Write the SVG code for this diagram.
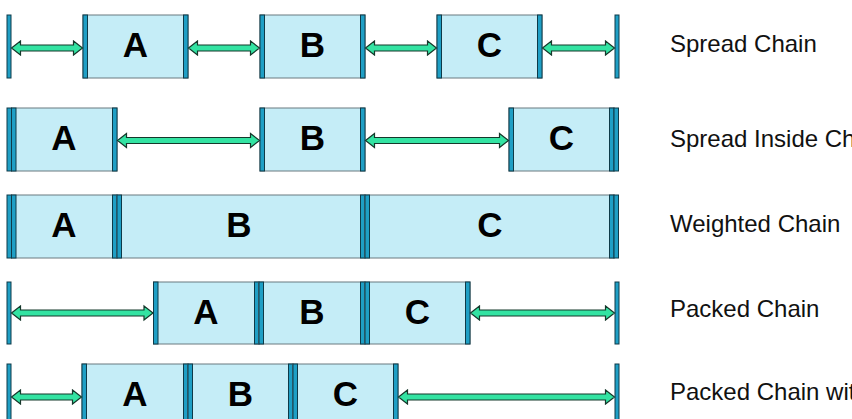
<svg xmlns="http://www.w3.org/2000/svg" width="852" height="419" viewBox="0 0 852 419">
<style>
.box{fill:#c5edf7;stroke:#6b7b80;stroke-width:1}
.bar{fill:#1f9fc5;stroke:#0e3a48;stroke-width:1}
.arr{fill:#33e3a2;stroke:#15382b;stroke-width:1.2;stroke-linejoin:miter}
.ltr{font-family:"Liberation Sans",Arial,sans-serif;font-weight:bold;font-size:35px;fill:#000;text-anchor:middle}
.lbl{font-family:"Liberation Sans",Arial,sans-serif;font-size:24px;fill:#111}
</style>
<rect width="852" height="419" fill="#fff"/>

<!-- Row 1: Spread Chain -->
<g id="r1-start"><rect class="bar" x="7" y="15" width="4" height="63"/></g>
<g id="r1-A"><rect class="box" x="83" y="15" width="105" height="63"/><rect class="bar" x="83" y="15" width="4.5" height="63"/><rect class="bar" x="183.5" y="15" width="4.5" height="63"/><text class="ltr" x="135.5" y="57">A</text></g>
<g id="r1-B"><rect class="box" x="260" y="15" width="105" height="63"/><rect class="bar" x="260" y="15" width="4.5" height="63"/><rect class="bar" x="360.5" y="15" width="4.5" height="63"/><text class="ltr" x="312.5" y="57">B</text></g>
<g id="r1-C"><rect class="box" x="437" y="15" width="105" height="63"/><rect class="bar" x="437" y="15" width="4.5" height="63"/><rect class="bar" x="537.5" y="15" width="4.5" height="63"/><text class="ltr" x="489.5" y="57">C</text></g>
<g id="r1-end"><rect class="bar" x="615" y="15" width="4" height="63"/></g>

<!-- Row 2: Spread Inside Chain -->
<g id="r2-start"><rect class="bar" x="7" y="108" width="4.5" height="63"/></g>
<g id="r2-A"><rect class="box" x="11.5" y="108" width="105.5" height="63"/><rect class="bar" x="11.5" y="108" width="4.5" height="63"/><rect class="bar" x="112.5" y="108" width="4.5" height="63"/><text class="ltr" x="64" y="150">A</text></g>
<g id="r2-B"><rect class="box" x="260" y="108" width="105" height="63"/><rect class="bar" x="260" y="108" width="4.5" height="63"/><rect class="bar" x="360.5" y="108" width="4.5" height="63"/><text class="ltr" x="312.5" y="150">B</text></g>
<g id="r2-C"><rect class="box" x="509" y="108" width="105" height="63"/><rect class="bar" x="509" y="108" width="4.5" height="63"/><rect class="bar" x="609.5" y="108" width="4.5" height="63"/><text class="ltr" x="561.5" y="150">C</text></g>
<g id="r2-end"><rect class="bar" x="614" y="108" width="4.5" height="63"/></g>

<!-- Row 3: Weighted Chain -->
<g id="r3-start"><rect class="bar" x="7" y="195" width="4.5" height="63"/></g>
<g id="r3-A"><rect class="box" x="11.5" y="195" width="105.5" height="63"/><rect class="bar" x="11.5" y="195" width="4.5" height="63"/><rect class="bar" x="112.5" y="195" width="4.5" height="63"/><text class="ltr" x="64" y="237">A</text></g>
<g id="r3-B"><rect class="box" x="117" y="195" width="248" height="63"/><rect class="bar" x="117" y="195" width="4.5" height="63"/><rect class="bar" x="360.5" y="195" width="4.5" height="63"/><text class="ltr" x="239" y="237">B</text></g>
<g id="r3-C"><rect class="box" x="365" y="195" width="249" height="63"/><rect class="bar" x="365" y="195" width="4.5" height="63"/><rect class="bar" x="609.5" y="195" width="4.5" height="63"/><text class="ltr" x="490" y="237">C</text></g>
<g id="r3-end"><rect class="bar" x="614" y="195" width="4.5" height="63"/></g>

<!-- Row 4: Packed Chain -->
<g id="r4-start"><rect class="bar" x="7" y="282" width="4" height="62"/></g>
<g id="r4-A"><rect class="box" x="153.5" y="282" width="105.5" height="62"/><rect class="bar" x="153.5" y="282" width="4.5" height="62"/><rect class="bar" x="254.5" y="282" width="4.5" height="62"/><text class="ltr" x="206" y="324">A</text></g>
<g id="r4-B"><rect class="box" x="259" y="282" width="106" height="62"/><rect class="bar" x="259" y="282" width="4.5" height="62"/><rect class="bar" x="360.5" y="282" width="4.5" height="62"/><text class="ltr" x="312" y="324">B</text></g>
<g id="r4-C"><rect class="box" x="365" y="282" width="105" height="62"/><rect class="bar" x="365" y="282" width="4.5" height="62"/><rect class="bar" x="465.5" y="282" width="4.5" height="62"/><text class="ltr" x="417.5" y="324">C</text></g>
<g id="r4-end"><rect class="bar" x="615" y="282" width="4" height="62"/></g>

<!-- Row 5: Packed Chain with Bias -->
<g id="r5-start"><rect class="bar" x="7" y="364" width="4" height="63"/></g>
<g id="r5-A"><rect class="box" x="82" y="364" width="106" height="63"/><rect class="bar" x="82" y="364" width="4.5" height="63"/><rect class="bar" x="183.5" y="364" width="4.5" height="63"/><text class="ltr" x="135" y="406">A</text></g>
<g id="r5-B"><rect class="box" x="188" y="364" width="105" height="63"/><rect class="bar" x="188" y="364" width="4.5" height="63"/><rect class="bar" x="288.5" y="364" width="4.5" height="63"/><text class="ltr" x="240.5" y="406">B</text></g>
<g id="r5-C"><rect class="box" x="293" y="364" width="105" height="63"/><rect class="bar" x="293" y="364" width="4.5" height="63"/><rect class="bar" x="393.5" y="364" width="4.5" height="63"/><text class="ltr" x="345.5" y="406">C</text></g>
<g id="r5-end"><rect class="bar" x="615" y="364" width="4" height="63"/></g>

<!-- Connectors -->
<g id="connectors">
<polygon class="arr" points="11.5,48 20.5,41 20.5,45 73.5,45 73.5,41 82.5,48 73.5,55 73.5,51 20.5,51 20.5,55"/>
<polygon class="arr" points="188.5,48 197.5,41 197.5,45 250.5,45 250.5,41 259.5,48 250.5,55 250.5,51 197.5,51 197.5,55"/>
<polygon class="arr" points="365.5,48 374.5,41 374.5,45 427.5,45 427.5,41 436.5,48 427.5,55 427.5,51 374.5,51 374.5,55"/>
<polygon class="arr" points="542.5,48 551.5,41 551.5,45 605.5,45 605.5,41 614.5,48 605.5,55 605.5,51 551.5,51 551.5,55"/>

<polygon class="arr" points="117.5,140.5 126.5,133.5 126.5,137.5 250.5,137.5 250.5,133.5 259.5,140.5 250.5,147.5 250.5,143.5 126.5,143.5 126.5,147.5"/>
<polygon class="arr" points="365.5,140.5 374.5,133.5 374.5,137.5 499.5,137.5 499.5,133.5 508.5,140.5 499.5,147.5 499.5,143.5 374.5,143.5 374.5,147.5"/>

<polygon class="arr" points="11.5,313 20.5,306 20.5,310 144,310 144,306 153,313 144,320 144,316 20.5,316 20.5,320"/>
<polygon class="arr" points="470.5,313 479.5,306 479.5,310 605.5,310 605.5,306 614.5,313 605.5,320 605.5,316 479.5,316 479.5,320"/>

<polygon class="arr" points="11.5,397 20.5,390 20.5,394 72.5,394 72.5,390 81.5,397 72.5,404 72.5,400 20.5,400 20.5,404"/>
<polygon class="arr" points="398.5,397 407.5,390 407.5,394 605.5,394 605.5,390 614.5,397 605.5,404 605.5,400 407.5,400 407.5,404"/>
</g>

<!-- Labels -->
<g id="labels">
<text class="lbl" x="670" y="52">Spread Chain</text>
<text class="lbl" x="670" y="147">Spread Inside Chain</text>
<text class="lbl" x="670" y="232">Weighted Chain</text>
<text class="lbl" x="670" y="317">Packed Chain</text>
<text class="lbl" x="670" y="400">Packed Chain with Bias</text>
</g>
</svg>
